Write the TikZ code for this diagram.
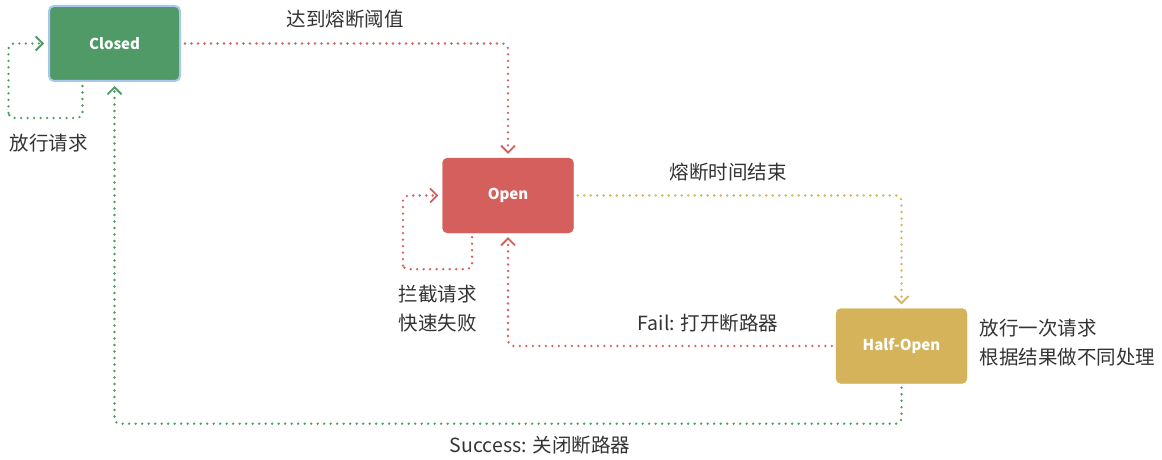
\documentclass[tikz,border=0pt]{standalone}
\usepackage{fontspec}
\setmainfont{Noto Sans CJK SC}
\usetikzlibrary{arrows.meta,positioning}
\definecolor{okgreen}{HTML}{4F9A66}
\definecolor{badred}{HTML}{D45F5D}
\definecolor{halfgold}{HTML}{D4B35B}
\definecolor{selblue}{HTML}{A9C7EE}
\definecolor{labelgray}{HTML}{333333}

\tikzset{
  statebox/.style={rectangle, rounded corners=5pt, minimum width=131pt,
    minimum height=75pt, text=white, font=\fontsize{15}{18}\selectfont\bfseries},
  flow/.style={line width=2.6pt, line cap=round, dash pattern=on 0pt off 6.5pt,
    rounded corners=5pt, -{Straight Barb[length=7pt,width=14pt,line width=1.8pt]},
    shorten <=4pt, shorten >=4pt},
  note/.style={text=labelgray, font=\fontsize{19.5}{29}\selectfont, align=left}
}

\begin{document}
\begin{tikzpicture}[x=1pt,y=1pt]
  \useasboundingbox (0,0) rectangle (1162,-460);

  % states
  \node[statebox, fill=okgreen, draw=selblue, line width=2pt] (closed) at (114.5,-43.5) {Closed};
  \node[statebox, fill=badred, draw=badred] (open) at (508,-195.5) {Open};
  \node[statebox, fill=halfgold, draw=halfgold] (halfopen) at (901.5,-346) {Half-Open};

  % self loops
  \draw[flow, okgreen] ([xshift=-32pt]closed.south) -- ++(0,-36) -| ++(-74,0)
    |- (closed.west);
  \draw[flow, badred] ([xshift=-36pt]open.south) -- ++(0,-36) -| ++(-69,0)
    |- (open.west);

  % transitions
  \draw[flow, badred] (closed.east) -| (open.north);
  \draw[flow, halfgold] (open.east) -| (halfopen.north);
  \draw[flow, badred] (halfopen.west) -| (open.south);
  \draw[flow, okgreen] (halfopen.south) -- ++(0,-40) -| (closed.south);

  % labels
  \node[note, anchor=west] (passlbl) at (6,-143) {放行请求};
  \node[note] (triplbl) at (345,-19) {达到熔断阈值};
  \node[note, anchor=north west] (blocklbl) at (395,-282) {拦截请求\\快速失败};
  \node[note] (timelbl) at (728,-172) {熔断时间结束};
  \node[note] (faillbl) at (708,-323) {Fail: 打开断路器};
  \node[note, anchor=north west] (halflbl) at (976,-316) {放行一次请求\\根据结果做不同处理};
  \node[note] (oklbl) at (540,-445) {Success: 关闭断路器};
\end{tikzpicture}
\end{document}
